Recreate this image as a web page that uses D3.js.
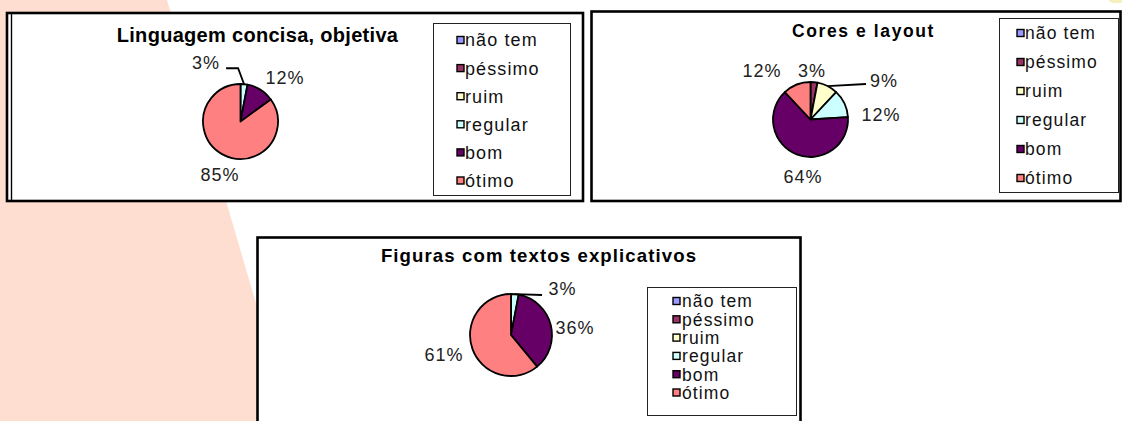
<!DOCTYPE html>
<html><head><meta charset="utf-8">
<script src="https://cdn.jsdelivr.net/npm/d3@7"></script>
<style>
body{margin:0;background:#fff}
svg{display:block}
text{font-family:"Liberation Sans",Arial,sans-serif}
</style>
</head><body>
<svg id="c" width="1122" height="421"></svg>
<script>
// ---- data ----
const categories = ["não tem","péssimo","ruim","regular","bom","ótimo"];
const sliceColors = ["#9999FF","#993366","#FFFFCC","#CCFFFF","#660066","#FF8080"];
const titles = ["Linguagem concisa, objetiva","Cores e layout","Figuras com textos explicativos"];
const valuesLinguagem = [0,0,0,3,12,85];
const valuesCores = [0,3,9,12,64,12];
const valuesFiguras = [0,0,0,3,36,61];

// ---- layout ----
const charts = [
  {values: valuesLinguagem, title: titles[0],
   box:[7,13,583,201], doubleLeft:true,
   titleX:257.5, titleY:42, titleSize:20, titleLs:0.3,
   cx:240.5, cy:121.5, r:37.5,
   legend:{x:433.5,y:23.5,w:137,h:172, top:40, step:28.1, sw:457, tx:465, size:18, ls:1.1},
   nudges:{3:[-40,0],4:[12.6,5.8],5:[6.5,0.5]},
   leaders:{3:{end:[20,6], elbow:[12,0]}}},
  {values: valuesCores, title: titles[1],
   box:[591.5,11.5,1120.5,201], doubleLeft:false,
   titleX:863.5, titleY:37, titleSize:17.5, titleLs:1.6,
   cx:810.5, cy:119.5, r:37.5,
   legend:{x:999.5,y:18.5,w:119,h:174, top:33, step:29, sw:1017, tx:1025, size:17.5, ls:1.1},
   nudges:{1:[-4,10.7],2:[46.5,14.5],3:[16.7,20.8],4:[14.4,1.7],5:[-26.6,6.8]},
   leaders:{2:{end:[-18,3]}}},
  {values: valuesFiguras, title: titles[2],
   box:[257.5,237.5,800.5,440], doubleLeft:false,
   titleX:539, titleY:262, titleSize:18.6, titleLs:1.1,
   cx:511, cy:335, r:41,
   legend:{x:647.5,y:287.5,w:149,h:128, top:301, step:18.3, sw:673, tx:682, size:17.5, ls:1.1},
   nudges:{3:[45.6,16.7],4:[3,8.2],5:[-7.7,-1.8]},
   leaders:{3:{end:[-20.5,6]}}}
];

const svg = d3.select("#c");
const color = d3.scaleOrdinal().domain(categories).range(sliceColors);

// pink slide background shape
svg.append("path")
  .attr("d", d3.line()([[0,0],[167,0],[258,310],[258,421],[0,421]]))
  .attr("fill","#FDDED0");

// small yellow corner shape at top right
svg.append("path")
  .attr("d", d3.line()([[1108,0],[1122,0],[1122,3],[1112,3]]))
  .attr("fill","#F6EFC0");

charts.forEach(ch => {
  const g = svg.append("g");
  const [x0,y0,x1,y1] = ch.box;
  g.append("rect").attr("x",x0).attr("y",y0).attr("width",x1-x0).attr("height",y1-y0)
    .attr("fill","#fff").attr("stroke","#000").attr("stroke-width",2.6);
  if (ch.doubleLeft) {
    g.append("line").attr("x1",x0+4.5).attr("x2",x0+4.5).attr("y1",y0).attr("y2",y1)
      .attr("stroke","#000").attr("stroke-width",1.4);
  }
  g.append("text").attr("x",ch.titleX).attr("y",ch.titleY)
    .attr("text-anchor","middle").attr("font-weight","bold")
    .attr("font-size",ch.titleSize).attr("letter-spacing",ch.titleLs)
    .attr("fill","#000").text(ch.title);

  const data = categories.map((c,i)=>({cat:c, value:ch.values[i], i}));
  const pie = d3.pie().sort(null).value(d=>d.value);
  const arcs = pie(data);
  const arc = d3.arc().innerRadius(0).outerRadius(ch.r);
  const edgeArc = d3.arc().innerRadius(ch.r).outerRadius(ch.r);
  const labelArc = d3.arc().innerRadius(ch.r+22).outerRadius(ch.r+22);
  const pg = g.append("g").attr("transform",`translate(${ch.cx},${ch.cy})`);
  pg.selectAll("path").data(arcs.filter(a=>a.data.value>0)).join("path")
    .attr("d",arc).attr("fill",a=>color(a.data.cat))
    .attr("stroke","#000").attr("stroke-width",1.8).attr("stroke-linejoin","round");

  arcs.filter(a=>a.data.value>0).forEach(a=>{
    const base = labelArc.centroid(a);
    const n = ch.nudges[a.data.i] || [0,0];
    const lx = base[0]+n[0], ly = base[1]+n[1];
    const ld = ch.leaders[a.data.i];
    if (ld) {
      const e = edgeArc.centroid(a);
      const end = [lx+ld.end[0], ly+ld.end[1]];
      const pts = [e];
      if (ld.elbow) pts.push([end[0]+ld.elbow[0], end[1]+ld.elbow[1]]);
      pts.push(end);
      pg.append("path").attr("d",d3.line()(pts)).attr("fill","none")
        .attr("stroke","#000").attr("stroke-width",1.8);
    }
    pg.append("text").attr("x",lx).attr("y",ly).attr("dy","0.36em")
      .attr("text-anchor","middle").attr("font-size",18).attr("letter-spacing",1)
      .attr("fill","#222").text(a.data.value+"%");
  });

  const L = ch.legend;
  g.append("rect").attr("x",L.x).attr("y",L.y).attr("width",L.w).attr("height",L.h)
    .attr("fill","#fff").attr("stroke","#222").attr("stroke-width",1);
  const ly = d3.scalePoint().domain(categories).range([L.top, L.top+5*L.step]);
  const items = g.selectAll(".li").data(categories).join("g").attr("class","li");
  items.append("rect").attr("x",L.sw).attr("y",c=>ly(c)-3.5).attr("width",7).attr("height",7)
    .attr("fill",c=>color(c)).attr("stroke","#000").attr("stroke-width",1.4);
  items.append("text").attr("x",L.tx).attr("y",c=>ly(c)).attr("dy","0.36em")
    .attr("font-size",L.size).attr("letter-spacing",L.ls).attr("fill","#111").text(c=>c);
});
</script>
</body></html>
